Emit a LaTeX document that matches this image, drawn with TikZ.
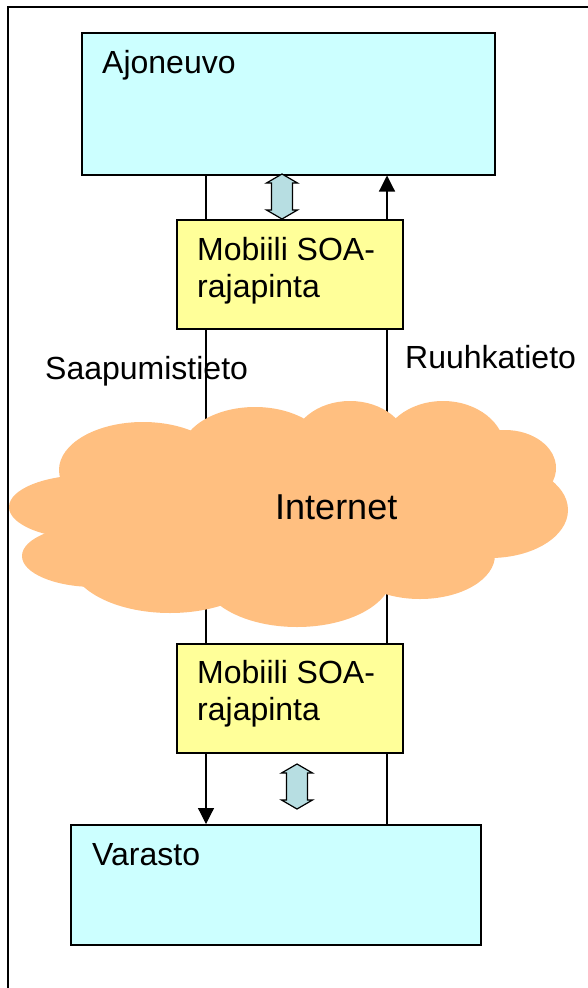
\documentclass[tikz,border=0pt]{standalone}
\usepackage{fontspec}
\setmainfont{Liberation Sans}
\usetikzlibrary{arrows.meta,shadows}
\definecolor{boxcyan}{RGB}{204,255,255}
\definecolor{boxyellow}{RGB}{255,255,153}
\definecolor{cloudorange}{RGB}{255,191,128}
\definecolor{arrowfill}{RGB}{183,222,226}
\begin{document}
\begin{tikzpicture}[x=1pt,y=-1pt,
  box/.style={draw=black, line width=1.5pt, anchor=north west, inner sep=0pt,
    drop shadow={shadow xshift=1.5pt, shadow yshift=-1.5pt, fill=gray, opacity=0.6}},
  lbl/.style={anchor=base west, inner sep=0pt, font=\fontsize{32}{37}\selectfont},
  conn/.style={line width=1.2pt},
  arr/.style={conn, -{Triangle[width=16pt,length=16pt]}},
  dbl/.style={draw=black, fill=arrowfill, line width=1.2pt, line join=miter},
  cloudpart/.style={fill=cloudorange}
]
\useasboundingbox (0,0) rectangle (587,988);
\fill[white] (0,0) rectangle (587,988);
\draw[line width=2pt] (8,1000) -- (8,7) -- (600,7);

% boxes
\node[box, fill=boxcyan, minimum width=413pt, minimum height=142pt] (ajo) at (81,32) {};
\node[box, fill=boxyellow, minimum width=226pt, minimum height=109pt] (mob1) at (176,219) {};
\node[box, fill=boxyellow, minimum width=226pt, minimum height=109pt] (mob2) at (176,643) {};
\node[box, fill=boxcyan, minimum width=410pt, minimum height=120pt] (var) at (70,824) {};

% connector columns
\coordinate (Lx) at (206,0);
\coordinate (Rx) at (387,0);

\draw[conn] (ajo.south -| Lx) -- (mob1.north -| Lx);
\draw[conn] (mob1.south -| Lx) -- (mob2.north -| Lx);
\draw[arr] (mob2.south -| Lx) -- (var.north -| Lx);
\draw[conn] (var.north -| Rx) -- (mob2.south -| Rx);
\draw[conn] (mob2.north -| Rx) -- (mob1.south -| Rx);
\draw[arr] (mob1.north -| Rx) -- (ajo.south -| Rx);

% double block arrows
\draw[dbl] (282,174) -- (297.5,183) -- (292.5,183) -- (292.5,210) -- (297.5,210) -- (282,219)
  -- (266.5,210) -- (271.5,210) -- (271.5,183) -- (266.5,183) -- cycle;
\draw[dbl] (297,764) -- (312.5,773) -- (307.5,773) -- (307.5,800) -- (312.5,800) -- (297,809)
  -- (281.5,800) -- (286.5,800) -- (286.5,773) -- (281.5,773) -- cycle;

% cloud
\fill[cloudpart] (88,507) ellipse [x radius=79pt, y radius=32pt];
\fill[cloudpart] (95,556) ellipse [x radius=73pt, y radius=31pt];
\fill[cloudpart] (143,470) ellipse [x radius=84pt, y radius=48pt];
\fill[cloudpart] (170,560) ellipse [x radius=100pt, y radius=53pt];
\fill[cloudpart] (297,575) ellipse [x radius=95pt, y radius=52pt];
\fill[cloudpart] (420,555) ellipse [x radius=75pt, y radius=44pt];
\fill[cloudpart] (490,510) ellipse [x radius=78pt, y radius=48pt];
\fill[cloudpart] (505,468) ellipse [x radius=51pt, y radius=38pt];
\fill[cloudpart] (443,450) ellipse [x radius=62pt, y radius=49pt];
\fill[cloudpart] (350,446) ellipse [x radius=58pt, y radius=45pt];
\fill[cloudpart] (255,455) ellipse [x radius=75pt, y radius=48pt];
\fill[cloudpart] (290,510) ellipse [x radius=240pt, y radius=85pt];

% texts
\node[lbl] (tajo) at (102,73) {Ajoneuvo};
\node[lbl] (tm1a) at (197,260) {Mobiili SOA-};
\node[lbl] (tm1b) at (197,297) {rajapinta};
\node[lbl] (tm2a) at (197,683) {Mobiili SOA-};
\node[lbl] (tm2b) at (197,720) {rajapinta};
\node[lbl] (tvar) at (92,865) {Varasto};
\node[lbl] (tsaa) at (45,379) {Saapumistieto};
\node[lbl] (truu) at (405,368) {Ruuhkatieto};
\node[lbl, font=\fontsize{36}{40}\selectfont] (tint) at (275,519) {Internet};
\end{tikzpicture}
\end{document}
